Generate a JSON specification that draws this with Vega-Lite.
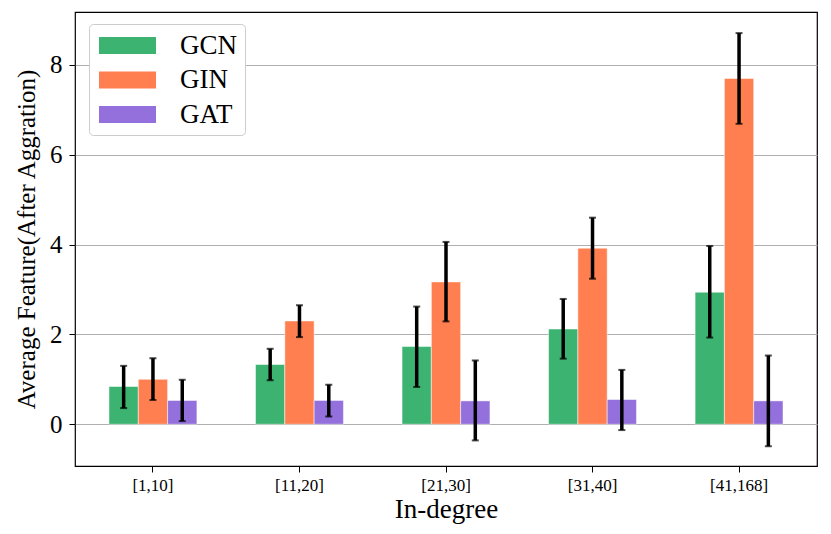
{
  "$schema": "https://vega.github.io/schema/vega-lite/v6.json",
  "autosize": "none",
  "padding": {"left": 75, "top": 12, "right": 14, "bottom": 68},
  "width": 742,
  "height": 454,
  "data": {
    "values": [
      {"degree": "[1,10]", "model": "GCN", "mean": 0.84, "lo": 0.36, "hi": 1.30},
      {"degree": "[1,10]", "model": "GIN", "mean": 1.00, "lo": 0.54, "hi": 1.47},
      {"degree": "[1,10]", "model": "GAT", "mean": 0.53, "lo": 0.07, "hi": 0.99},
      {"degree": "[11,20]", "model": "GCN", "mean": 1.33, "lo": 0.98, "hi": 1.68},
      {"degree": "[11,20]", "model": "GIN", "mean": 2.30, "lo": 1.94, "hi": 2.65},
      {"degree": "[11,20]", "model": "GAT", "mean": 0.53, "lo": 0.17, "hi": 0.88},
      {"degree": "[21,30]", "model": "GCN", "mean": 1.73, "lo": 0.83, "hi": 2.62},
      {"degree": "[21,30]", "model": "GIN", "mean": 3.17, "lo": 2.29, "hi": 4.06},
      {"degree": "[21,30]", "model": "GAT", "mean": 0.52, "lo": -0.36, "hi": 1.42},
      {"degree": "[31,40]", "model": "GCN", "mean": 2.12, "lo": 1.46, "hi": 2.79},
      {"degree": "[31,40]", "model": "GIN", "mean": 3.92, "lo": 3.24, "hi": 4.60},
      {"degree": "[31,40]", "model": "GAT", "mean": 0.55, "lo": -0.13, "hi": 1.21},
      {"degree": "[41,168]", "model": "GCN", "mean": 2.94, "lo": 1.93, "hi": 3.97},
      {"degree": "[41,168]", "model": "GIN", "mean": 7.70, "lo": 6.69, "hi": 8.71},
      {"degree": "[41,168]", "model": "GAT", "mean": 0.52, "lo": -0.49, "hi": 1.53}
    ]
  },
  "encoding": {
    "x": {
      "field": "degree",
      "type": "nominal",
      "sort": null,
      "scale": {"paddingInner": 0.4, "paddingOuter": 0.232},
      "axis": {
        "title": "In-degree",
        "labelAngle": 0,
        "labelFontSize": 17,
        "titleFontSize": 27,
        "titleFontWeight": "normal",
        "titlePadding": 3,
        "tickSize": 6,
        "labelPadding": 5,
        "grid": false,
        "domain": false
      }
    },
    "xOffset": {
      "field": "model",
      "type": "nominal",
      "sort": ["GCN", "GIN", "GAT"],
      "scale": {"paddingInner": 0, "paddingOuter": 0}
    }
  },
  "layer": [
    {
      "mark": {"type": "bar", "stroke": "white", "strokeWidth": 0.5},
      "encoding": {
        "y": {
          "field": "mean",
          "type": "quantitative",
          "scale": {"domain": [-0.93, 9.18], "nice": false, "zero": false},
          "axis": {
            "title": "Average Feature(After Aggration)",
            "values": [0, 2, 4, 6, 8],
            "labelFontSize": 25,
            "titleFontSize": 25,
            "titleFontWeight": "normal",
            "titlePadding": 10,
            "tickSize": 6,
            "labelPadding": 7,
            "gridColor": "#b0b0b0",
            "gridWidth": 1.2,
            "domain": false
          }
        },
        "y2": {"datum": 0},
        "color": {
          "field": "model",
          "type": "nominal",
          "sort": ["GCN", "GIN", "GAT"],
          "scale": {"domain": ["GCN", "GIN", "GAT"], "range": ["#3CB371", "#FF7F50", "#9370DB"]},
          "legend": {
            "title": null,
            "orient": "none",
            "legendX": 14,
            "legendY": 12,
            "symbolType": "M-2,-0.6H2V0.6H-2Z",
            "symbolSize": 812,
            "symbolOffset": 17,
            "symbolStrokeWidth": 0,
            "labelFontSize": 27,
            "labelOffset": 38,
            "rowPadding": 6.5,
            "padding": 7,
            "fillColor": "white",
            "strokeColor": "#cccccc",
            "cornerRadius": 4
          }
        }
      }
    },
    {
      "mark": {"type": "rule", "color": "black", "strokeWidth": 3.5},
      "encoding": {
        "y": {"field": "lo", "type": "quantitative"},
        "y2": {"field": "hi"}
      }
    },
    {
      "mark": {"type": "tick", "color": "black", "thickness": 2, "size": 7},
      "encoding": {"y": {"field": "lo", "type": "quantitative"}}
    },
    {
      "mark": {"type": "tick", "color": "black", "thickness": 2, "size": 7},
      "encoding": {"y": {"field": "hi", "type": "quantitative"}}
    }
  ],
  "config": {
    "font": "Liberation Serif",
    "view": {"stroke": "black", "strokeWidth": 1.2},
    "axis": {"labelColor": "black", "titleColor": "black", "tickColor": "black", "labelFont": "Liberation Serif", "titleFont": "Liberation Serif"},
    "legend": {"labelFont": "Liberation Serif", "labelColor": "black"}
  }
}
